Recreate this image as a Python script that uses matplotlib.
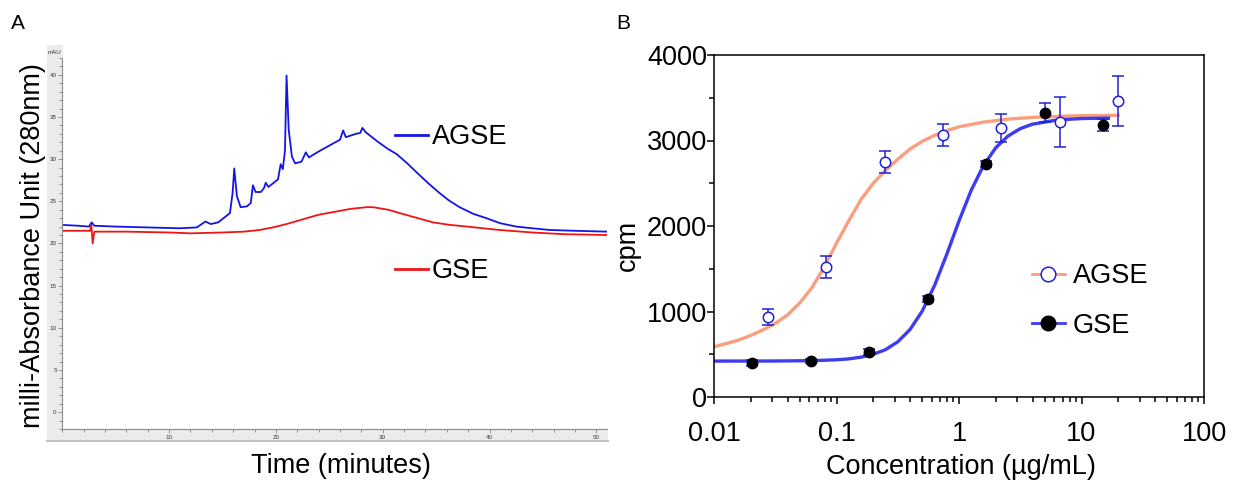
import numpy as np
import matplotlib
matplotlib.use('Agg')
import matplotlib.pyplot as plt
from matplotlib.lines import Line2D
from matplotlib.patches import Rectangle
from matplotlib.ticker import MultipleLocator, FixedLocator, LogLocator, NullFormatter

plt.rcParams['font.family'] = ['Liberation Sans', 'DejaVu Sans']

# panel A: chromatogram (minutes, mAU)
agse_time = [0, 1.5, 2.5, 2.75, 3.0, 5, 8, 11, 12.6, 13.4, 13.9, 14.6, 15.3, 15.7, 15.95,
             16.1, 16.35, 16.7, 17.3, 17.65, 17.85, 18.1, 18.6, 18.9, 19.05, 19.3, 19.9, 20.2,
             20.45, 20.65, 20.85, 21.0, 21.2, 21.5, 21.8, 22.4, 22.8, 23.1, 24.0, 25.0, 26.0,
             26.3, 26.55, 27.5, 27.9, 28.1, 28.4, 29.5, 30.5, 31.3, 32.3, 33.2, 34.3, 35.3,
             36.2, 37.2, 38.5, 39.7, 41.0, 42.5, 44.0, 45.6, 48.0, 51.0]
agse_mau = [22.2, 22.1, 22.0, 22.5, 22.1, 22.0, 21.9, 21.8, 21.9, 22.6, 22.3, 22.5, 23.2, 23.6, 26.0,
            28.9, 25.6, 24.3, 24.4, 24.8, 26.9, 26.1, 26.1, 26.6, 27.2, 26.7, 27.3, 27.6,
            29.4, 28.8, 31.0, 39.9, 33.5, 30.3, 29.5, 29.7, 30.8, 30.2, 30.9, 31.6, 32.3,
            33.4, 32.6, 33.0, 33.1, 33.7, 33.2, 32.1, 31.2, 30.6, 29.5, 28.4, 27.1, 26.0,
            25.1, 24.3, 23.5, 23.0, 22.4, 22.0, 21.8, 21.6, 21.5, 21.4]
gse_time = [0, 1.5, 2.6, 2.72, 2.85, 3.0, 6, 10, 12, 15, 17, 18.5, 19.7, 21, 22.9, 24, 25.3,
            27, 28.5, 29.1, 30.5, 31.6, 33.0, 34.7, 36.3, 37.9, 40.9, 44, 47, 51]
gse_mau = [21.5, 21.5, 21.5, 22.2, 20.0, 21.4, 21.4, 21.3, 21.2, 21.3, 21.4, 21.6, 21.9, 22.3, 23.0,
           23.4, 23.7, 24.1, 24.3, 24.3, 24.0, 23.6, 23.1, 22.5, 22.2, 22.0, 21.6, 21.3, 21.1, 21.0]

# panel B: dose response (ug/mL, cpm, sd)
agse_conc = [0.0274, 0.0823, 0.247, 0.741, 2.22, 6.67, 20]
agse_cpm = [936, 1520, 2750, 3064, 3146, 3216, 3462]
agse_err = [90, 130, 130, 125, 160, 290, 290]
gse_conc = [0.0206, 0.0617, 0.185, 0.556, 1.67, 5, 15]
gse_cpm = [401, 425, 526, 1146, 2725, 3325, 3181]
gse_err = [35, 25, 35, 35, 30, 110, 75]

# fitted curves (log10 conc, cpm)
agse_fit_logc = [-2.0, -1.9, -1.8, -1.7, -1.6, -1.5, -1.4, -1.3, -1.2, -1.1, -1.0, -0.9, -0.8, -0.7,
                 -0.6, -0.5, -0.4, -0.3, -0.2, -0.1, 0.0, 0.2, 0.4, 0.6, 0.8, 1.0, 1.3]
agse_fit_cpm = [588, 625, 665, 720, 785, 860, 960, 1100, 1280, 1520, 1800, 2060, 2310, 2500,
                2650, 2780, 2900, 2990, 3060, 3115, 3160, 3215, 3250, 3270, 3282, 3290, 3295]
gse_fit_logc = [-2.0, -1.5, -1.2, -1.0, -0.9, -0.8, -0.7, -0.6, -0.5, -0.4, -0.3, -0.2, -0.1,
                0.0, 0.1, 0.2, 0.3, 0.4, 0.5, 0.6, 0.8, 1.0, 1.22]
gse_fit_cpm = [420, 421, 425, 435, 446, 466, 499, 554, 645, 789, 1005, 1303, 1668,
               2059, 2419, 2707, 2915, 3052, 3139, 3191, 3240, 3257, 3262]

W, H = 1235, 487
FS = 19.5
blue_a = '#1414e6'
red_a = '#f01414'
orange = '#fa9e80'
blue_b = '#3c3cf0'
err_blue = '#2020d8'

fig = plt.figure(figsize=(W / 100, H / 100), dpi=100)

# grey instrument frame behind panel A (drawn before the axes)
fig.patches.append(Rectangle((47 / W, 1 - 441 / H), (63 - 47) / W, (441 - 45) / H,
                             transform=fig.transFigure, facecolor='#ebebeb', edgecolor='none', zorder=-2))
fig.patches.append(Rectangle((47 / W, 1 - 441 / H), (608 - 47) / W, (441 - 429) / H,
                             transform=fig.transFigure, facecolor='#ebebeb', edgecolor='none', zorder=-2))
fig.lines.append(Line2D([47 / W, 608 / W], [1 - 441 / H, 1 - 441 / H], transform=fig.transFigure,
                        color='#c4c4c4', lw=1.5, zorder=-1))

# ---- panel A
ax1 = fig.add_axes([62.25 / W, 1 - 429 / H, (607 - 62.25) / W, (429 - 57.9) / H])
ax1.patch.set_alpha(0)
ax1.plot(agse_time, agse_mau, color=blue_a, lw=1.3)
ax1.plot(gse_time, gse_mau, color=red_a, lw=1.3)
ax1.set_xlim(0, 51)
ax1.set_ylim(-2, 42)
for s in ['top', 'right']:
    ax1.spines[s].set_visible(False)
for s in ['left', 'bottom']:
    ax1.spines[s].set_color('#8a8a8a')
    ax1.spines[s].set_linewidth(0.8)
ax1.xaxis.set_major_locator(FixedLocator([10, 20, 30, 40, 50]))
ax1.xaxis.set_minor_locator(MultipleLocator(2))
ax1.yaxis.set_major_locator(MultipleLocator(5))
ax1.yaxis.set_minor_locator(MultipleLocator(1))
ax1.tick_params(which='both', direction='out', colors='#8a8a8a', labelcolor='#3a3a3a',
                labelsize=4.5, width=0.6, pad=1)
ax1.tick_params(which='major', length=3)
ax1.tick_params(which='minor', length=2)
fig.text(48 / W, 1 - 52 / H, 'mAU', fontsize=4.5, color='#3a3a3a', va='center')

leg1 = ax1.legend([Line2D([], [], color=blue_a, lw=2)], ['AGSE'], loc='center left',
                  bbox_to_anchor=(395 / W, 1 - 137 / H), bbox_transform=fig.transFigure,
                  frameon=False, fontsize=FS, handlelength=1.2, handletextpad=0.15,
                  borderpad=0, borderaxespad=0)
ax1.add_artist(leg1)
ax1.legend([Line2D([], [], color=red_a, lw=2)], ['GSE'], loc='center left',
           bbox_to_anchor=(395 / W, 1 - 271 / H), bbox_transform=fig.transFigure,
           frameon=False, fontsize=FS, handlelength=1.2, handletextpad=0.15,
           borderpad=0, borderaxespad=0)

fig.text(33 / W, 1 - 246 / H, 'milli-Absorbance Unit (280nm)', fontsize=FS, rotation=90,
         ha='center', va='center')
fig.text(341 / W, 1 - 466 / H, 'Time (minutes)', fontsize=FS, ha='center', va='center')

# ---- panel B
ax2 = fig.add_axes([714 / W, 1 - 397 / H, (1204 - 714) / W, (397 - 55) / H])
ax2.set_xscale('log')
ax2.plot(10 ** np.array(agse_fit_logc), agse_fit_cpm, color=orange, lw=2.4, zorder=2)
ax2.plot(10 ** np.array(gse_fit_logc), gse_fit_cpm, color=blue_b, lw=2.4, zorder=2)
ax2.errorbar(agse_conc, agse_cpm, yerr=agse_err, fmt='none', ecolor=err_blue,
             elinewidth=1.1, capsize=4, capthick=1.1, zorder=3)
ax2.errorbar(gse_conc, gse_cpm, yerr=gse_err, fmt='none', ecolor=err_blue,
             elinewidth=1.1, capsize=4, capthick=1.1, zorder=3)
ax2.plot(agse_conc, agse_cpm, 'o', ms=7.5, mfc='white', mec=err_blue, mew=1.1, ls='none', zorder=4)
ax2.plot(gse_conc, gse_cpm, 'o', ms=7.5, mfc='black', mec='black', ls='none', zorder=4)

ax2.set_xlim(0.01, 100)
ax2.set_ylim(0, 4000)
ax2.set_xticks([0.01, 0.1, 1, 10, 100])
ax2.set_xticklabels(['0.01', '0.1', '1', '10', '100'])
ax2.xaxis.set_minor_locator(LogLocator(base=10, subs=np.arange(2, 10)))
ax2.xaxis.set_minor_formatter(NullFormatter())
ax2.yaxis.set_major_locator(MultipleLocator(1000))
ax2.yaxis.set_minor_locator(MultipleLocator(500))
for s in ax2.spines.values():
    s.set_linewidth(1.1)
ax2.tick_params(which='both', direction='out', labelsize=FS, width=1.1)
ax2.tick_params(which='major', length=5)
ax2.tick_params(which='minor', length=3.5)
ax2.tick_params(axis='x', pad=12)
ax2.tick_params(axis='y', pad=0)

h_agse = Line2D([], [], color=orange, lw=2, marker='o', ms=10.5, mfc='white', mec=err_blue, mew=1.1)
h_gse = Line2D([], [], color=blue_b, lw=2, marker='o', ms=10.5, mfc='black', mec='black')
ax2.legend([h_agse, h_gse], ['AGSE', 'GSE'], loc='center left',
           bbox_to_anchor=(1032 / W, 1 - 301 / H), bbox_transform=fig.transFigure,
           frameon=False, fontsize=FS, handlelength=1.2, handletextpad=0.3,
           labelspacing=0.85, borderpad=0, borderaxespad=0)

fig.text(628 / W, 1 - 245 / H, 'cpm', fontsize=FS, rotation=90, ha='center', va='center')
fig.text(961 / W, 1 - 467 / H, 'Concentration (µg/mL)', fontsize=FS, ha='center', va='center')

# panel letters
fig.text(11 / W, 1 - 14 / H, 'A', fontsize=15, ha='left', va='top')
fig.text(616 / W, 1 - 14 / H, 'B', fontsize=15, ha='left', va='top')

fig.savefig('out.png', dpi=100)
